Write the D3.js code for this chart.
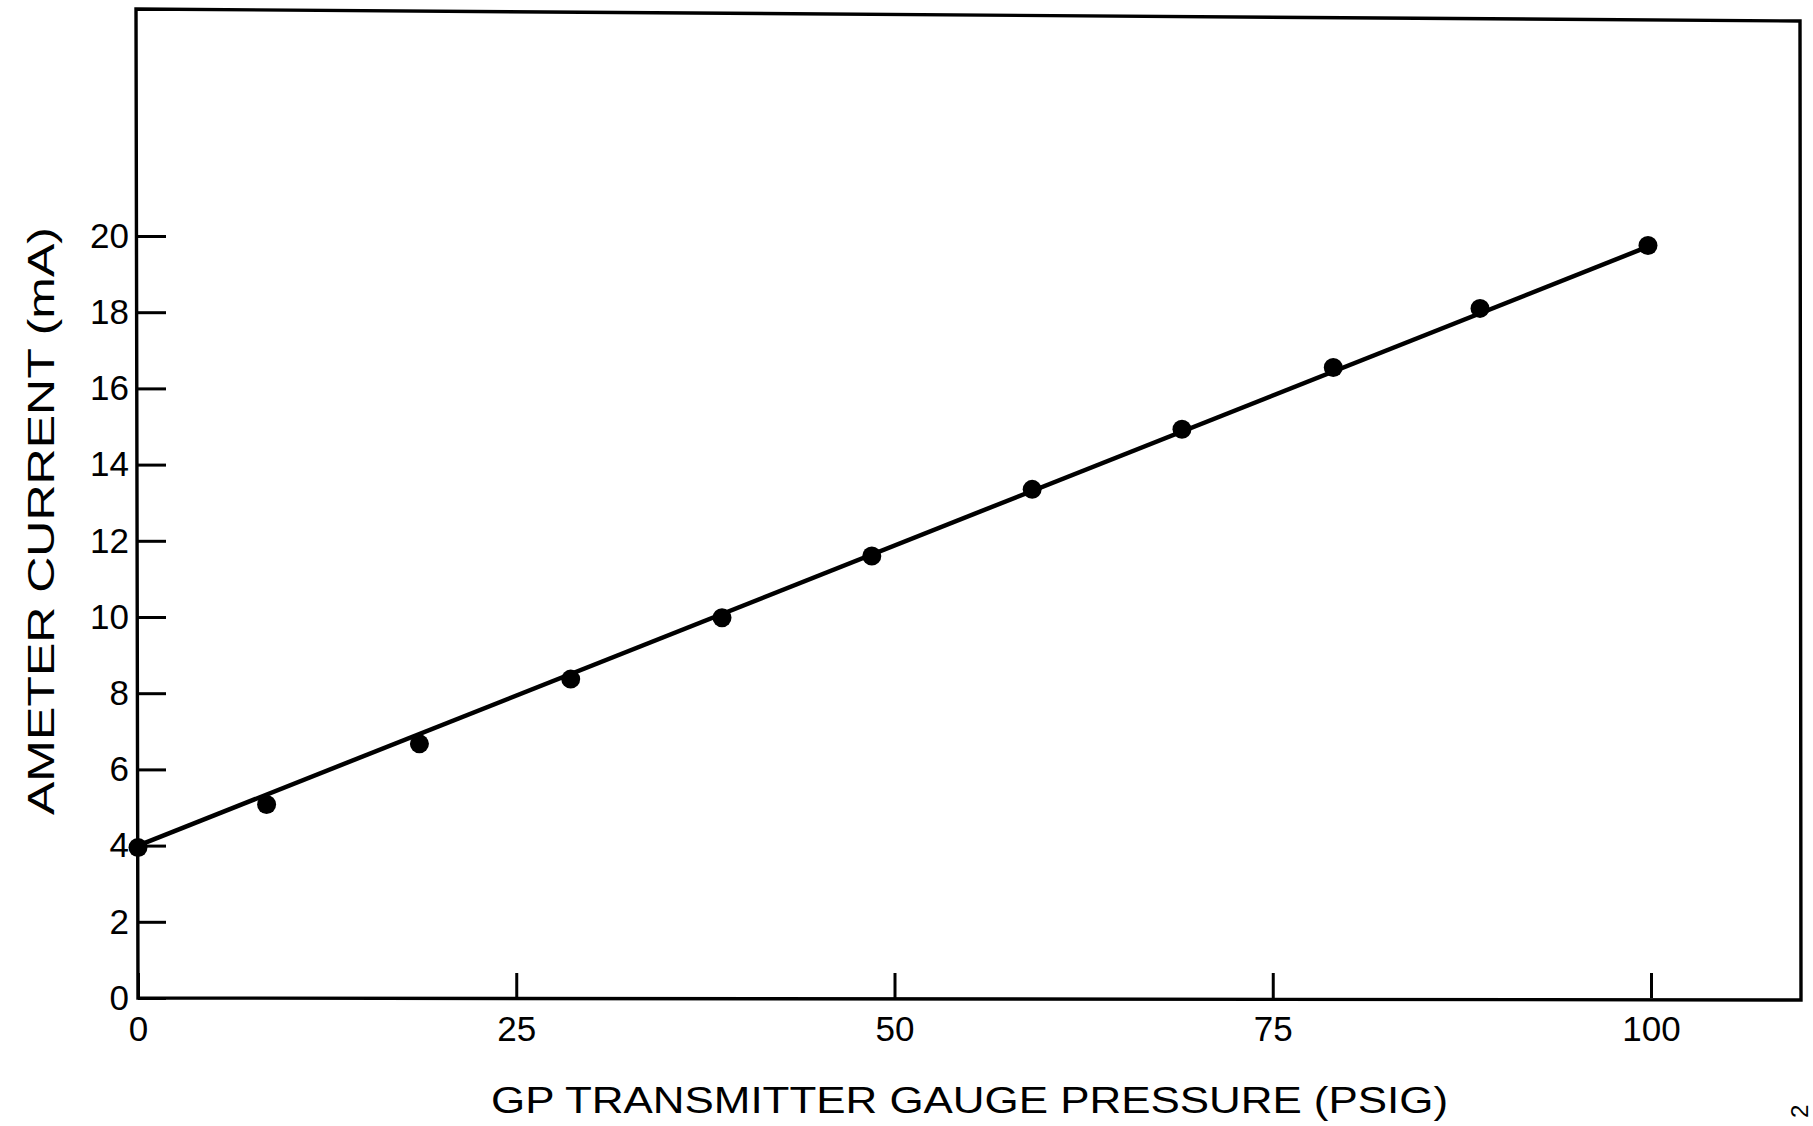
<!DOCTYPE html>
<html>
<head>
<meta charset="utf-8">
<script src="https://cdn.jsdelivr.net/npm/d3@7/dist/d3.min.js"></script>
<style>
  body { margin: 0; background: #ffffff; }
  svg { display: block; }
  text { font-family: 'Liberation Sans', Arial, Helvetica, sans-serif; fill: #000; }
</style>
</head>
<body>
<div class="display"></div>
<script>
const WIDTH = 1813;
const HEIGHT = 1126;

// frame of the plot (pixels)
const LEFT = 138;
const RIGHT = 1800;
const TOP = 12;
const BOTTOM = 998;

const X_LABEL = 'GP TRANSMITTER GAUGE PRESSURE (PSIG)';
const Y_LABEL = 'AMETER CURRENT (mA)';

// measured points
const PRESSURE = [0, 8.5, 18.6, 28.6, 38.6, 48.5, 59.1, 69.0, 79.0, 88.7, 99.8];
const CURRENT = [3.95, 5.08, 6.67, 8.37, 9.98, 11.6, 13.35, 14.93, 16.55, 18.10, 19.75];

// straight line drawn through the points
const FIT_PRESSURE = [0, 99.8];
const FIT_CURRENT = [4.0, 19.72];

const X_TICKS = [0, 25, 50, 75, 100];
const Y_TICKS = [0, 2, 4, 6, 8, 10, 12, 14, 16, 18, 20];

let svg;

function setupSvg() {
  svg = d3.select('.display')
    .append('svg')
    .attr('width', WIDTH)
    .attr('height', HEIGHT);

  svg.append('rect')
    .attr('width', WIDTH)
    .attr('height', HEIGHT)
    .attr('fill', '#fff');
}

function draw() {
  const x = d3.scaleLinear()
    .domain([0, 100])
    .range([LEFT, 1651]);

  const y = d3.scaleLinear()
    .domain([0, 20])
    .range([BOTTOM, 236]);

  // frame (top edge is slightly tilted in the scan)
  svg.append('path')
    .attr('d', `M${LEFT - 2},${TOP - 3} L${RIGHT},${TOP + 9} L${RIGHT + 1},${BOTTOM + 2} L${LEFT},${BOTTOM} Z`)
    .attr('fill', 'none')
    .attr('stroke', '#000')
    .attr('stroke-width', 3.4);

  // x axis
  const xAxis = svg.append('g')
    .attr('class', 'x-axis')
    .attr('transform', `translate(0, ${BOTTOM})`)
    .call(d3.axisBottom(x)
      .tickValues(X_TICKS)
      .tickSizeInner(-25)
      .tickSizeOuter(0)
      .tickPadding(18)
      .tickFormat(d3.format('d')));

  // y axis
  const yAxis = svg.append('g')
    .attr('class', 'y-axis')
    .attr('transform', `translate(${LEFT}, 0)`)
    .call(d3.axisLeft(y)
      .tickValues(Y_TICKS)
      .tickSizeInner(-28)
      .tickSizeOuter(0)
      .tickPadding(9)
      .tickFormat(d3.format('d')));

  [xAxis, yAxis].forEach(g => {
    g.select('.domain').remove();
    g.selectAll('.tick line').attr('stroke', '#000').attr('stroke-width', 3);
    g.selectAll('.tick text')
      .style('font-size', '35px')
      .style('font-family', "'Liberation Sans', Arial, sans-serif")
      .attr('fill', '#000');
  });

  // fitted line
  const line = d3.line()
    .x(d => x(d[0]))
    .y(d => y(d[1]));

  svg.append('path')
    .datum(FIT_PRESSURE.map((p, i) => [p, FIT_CURRENT[i]]))
    .attr('d', line)
    .attr('fill', 'none')
    .attr('stroke', '#000')
    .attr('stroke-width', 4.5);

  // points
  svg.selectAll('.point')
    .data(PRESSURE.map((p, i) => ({ p: p, c: CURRENT[i] })))
    .enter()
    .append('circle')
    .attr('class', 'point')
    .attr('cx', d => x(d.p))
    .attr('cy', d => y(d.c))
    .attr('r', 9.5)
    .attr('fill', '#000');

  // axis titles
  svg.append('text')
    .attr('x', 491)
    .attr('y', 1113)
    .attr('textLength', 957)
    .attr('lengthAdjust', 'spacingAndGlyphs')
    .style('font-size', '36px')
    .text(X_LABEL);

  svg.append('text')
    .attr('transform', 'translate(54, 815) rotate(-90)')
    .attr('textLength', 588)
    .attr('lengthAdjust', 'spacingAndGlyphs')
    .style('font-size', '36px')
    .text(Y_LABEL);

  // page mark cut at the right edge
  svg.append('text')
    .attr('transform', 'translate(1808, 1118) rotate(-90)')
    .style('font-size', '24px')
    .text('2');
}

window.addEventListener('load', () => {
  setupSvg();
  draw();
}, false);
</script>
</body>
</html>
